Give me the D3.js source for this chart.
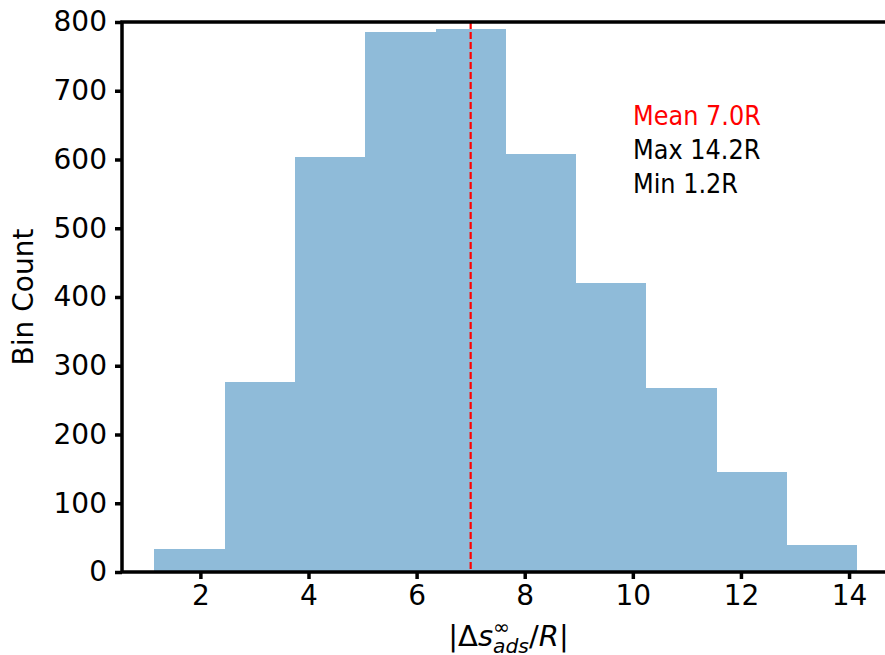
<!DOCTYPE html>
<html>
<head>
<meta charset="utf-8">
<script src="https://cdnjs.cloudflare.com/ajax/libs/d3/7.8.5/d3.min.js"></script>
<style>
  body { margin: 0; background: #fff; }
  svg text { font-family: "DejaVu Sans", sans-serif; }
</style>
</head>
<body>
<svg id="chart" width="885" height="655"></svg>
<script>
// histogram bins
var binEdges = [1.15, 2.45, 3.75, 5.05, 6.35, 7.65, 8.95, 10.25, 11.55, 12.85, 14.15];
var binCounts = [33, 277, 604, 786, 790, 608, 420, 267, 145, 40];
var xTicks = [2, 4, 6, 8, 10, 12, 14];
var yTicks = [0, 100, 200, 300, 400, 500, 600, 700, 800];
var meanValue = 7.0;
var statLabels = ["Mean 7.0R", "Max 14.2R", "Min 1.2R"];
var statColors = ["red", "#000", "#000"];

var svg = d3.select('#chart');

// plot box (careful: "top" is taken by window.top)
var pLeft = 122, pRight = 895, pTop = 22, pBottom = 572;

var x = d3.scaleLinear().domain([0.55, 14.85]).range([pLeft, pRight]);
var y = d3.scaleLinear().domain([0, 800]).range([pBottom, pTop]);

var bins = binCounts.map(function(c, i) {
  return { x0: binEdges[i], x1: binEdges[i + 1], count: c };
});

// bars - crispEdges so neighbours don't show a seam
svg.append('g').attr('shape-rendering', 'crispEdges').selectAll('rect')
  .data(bins)
  .enter().append('rect')
  .attr('x', function(d) { return x(d.x0); })
  .attr('width', function(d) { return x(d.x1) - x(d.x0); })
  .attr('y', function(d) { return y(d.count); })
  .attr('height', function(d) { return y(0) - y(d.count); })
  .attr('fill', '#8fbbd9');

// mean line
svg.append('line')
  .attr('x1', x(meanValue)).attr('x2', x(meanValue))
  .attr('y1', pTop).attr('y2', pBottom)
  .attr('stroke', 'red')
  .attr('stroke-width', 2.2)
  .attr('stroke-dasharray', '7,3');

// axes
var xAxis = svg.append('g')
  .attr('transform', 'translate(0,' + pBottom + ')')
  .call(d3.axisBottom(x).tickValues(xTicks).tickFormat(d3.format('d')).tickSize(7).tickPadding(6));
var yAxis = svg.append('g')
  .attr('transform', 'translate(' + pLeft + ',0)')
  .call(d3.axisLeft(y).tickValues(yTicks).tickSize(7).tickPadding(8));

[xAxis, yAxis].forEach(function(a) {
  a.select('.domain').remove();
  a.selectAll('.tick line').attr('stroke', '#000').attr('stroke-width', 3.5);
  a.selectAll('.tick text')
    .attr('fill', '#000')
    .style('font-size', '28px');
});

// spines (right one falls outside the crop)
var spines = svg.append('g').attr('stroke', '#000').attr('stroke-width', 3.5).attr('fill', 'none');
spines.append('rect')
  .attr('x', pLeft).attr('y', pTop)
  .attr('width', pRight - pLeft).attr('height', pBottom - pTop);

// stats text (source image is a bit stretched vertically)
svg.append('g').selectAll('text')
  .data(statLabels)
  .enter().append('text')
  .attr('transform', function(d, i) { return 'translate(633,' + (125 + i * 34) + ') scale(1,1.08)'; })
  .attr('fill', function(d, i) { return statColors[i]; })
  .style('font-size', '24px')
  .text(function(d) { return d; });

// y label
svg.append('text')
  .attr('transform', 'translate(33,' + ((pTop + pBottom) / 2) + ') rotate(-90)')
  .attr('text-anchor', 'middle')
  .style('font-size', '28px')
  .text('Bin Count');

// x label: |Δs^∞_ads / R| laid out piece by piece
var fs = 29;
var lab = svg.append('g');
var pieces = [
  { t: '|Δ', italic: false, size: fs, dy: 0 },
  { t: 's', italic: true, size: fs, dy: 0 },
  { t: '∞', italic: false, size: fs * 0.7, dy: -12, stackStart: true },
  { t: 'ads', italic: true, size: fs * 0.7, dy: 7, stackEnd: true },
  { t: '/', italic: false, size: fs, dy: 0 },
  { t: 'R', italic: true, size: fs, dy: 0 },
  { t: '|', italic: false, size: fs, dy: 0 }
];
var cx = 0, stackX = 0, stackW = 0;
pieces.forEach(function(p) {
  var startX = p.stackEnd ? stackX : cx;
  var t = lab.append('text')
    .attr('x', startX)
    .attr('y', p.dy)
    .style('font-size', p.size + 'px')
    .style('font-style', p.italic ? 'italic' : 'normal')
    .text(p.t);
  var w = t.node().getComputedTextLength();
  if (p.stackStart) { stackX = cx; stackW = w; }
  else if (p.stackEnd) { cx = stackX + Math.max(stackW, w); }
  else { cx += w; }
});
lab.attr('transform', 'translate(' + ((pLeft + pRight) / 2 - cx / 2) + ',646)');
</script>
</body>
</html>
